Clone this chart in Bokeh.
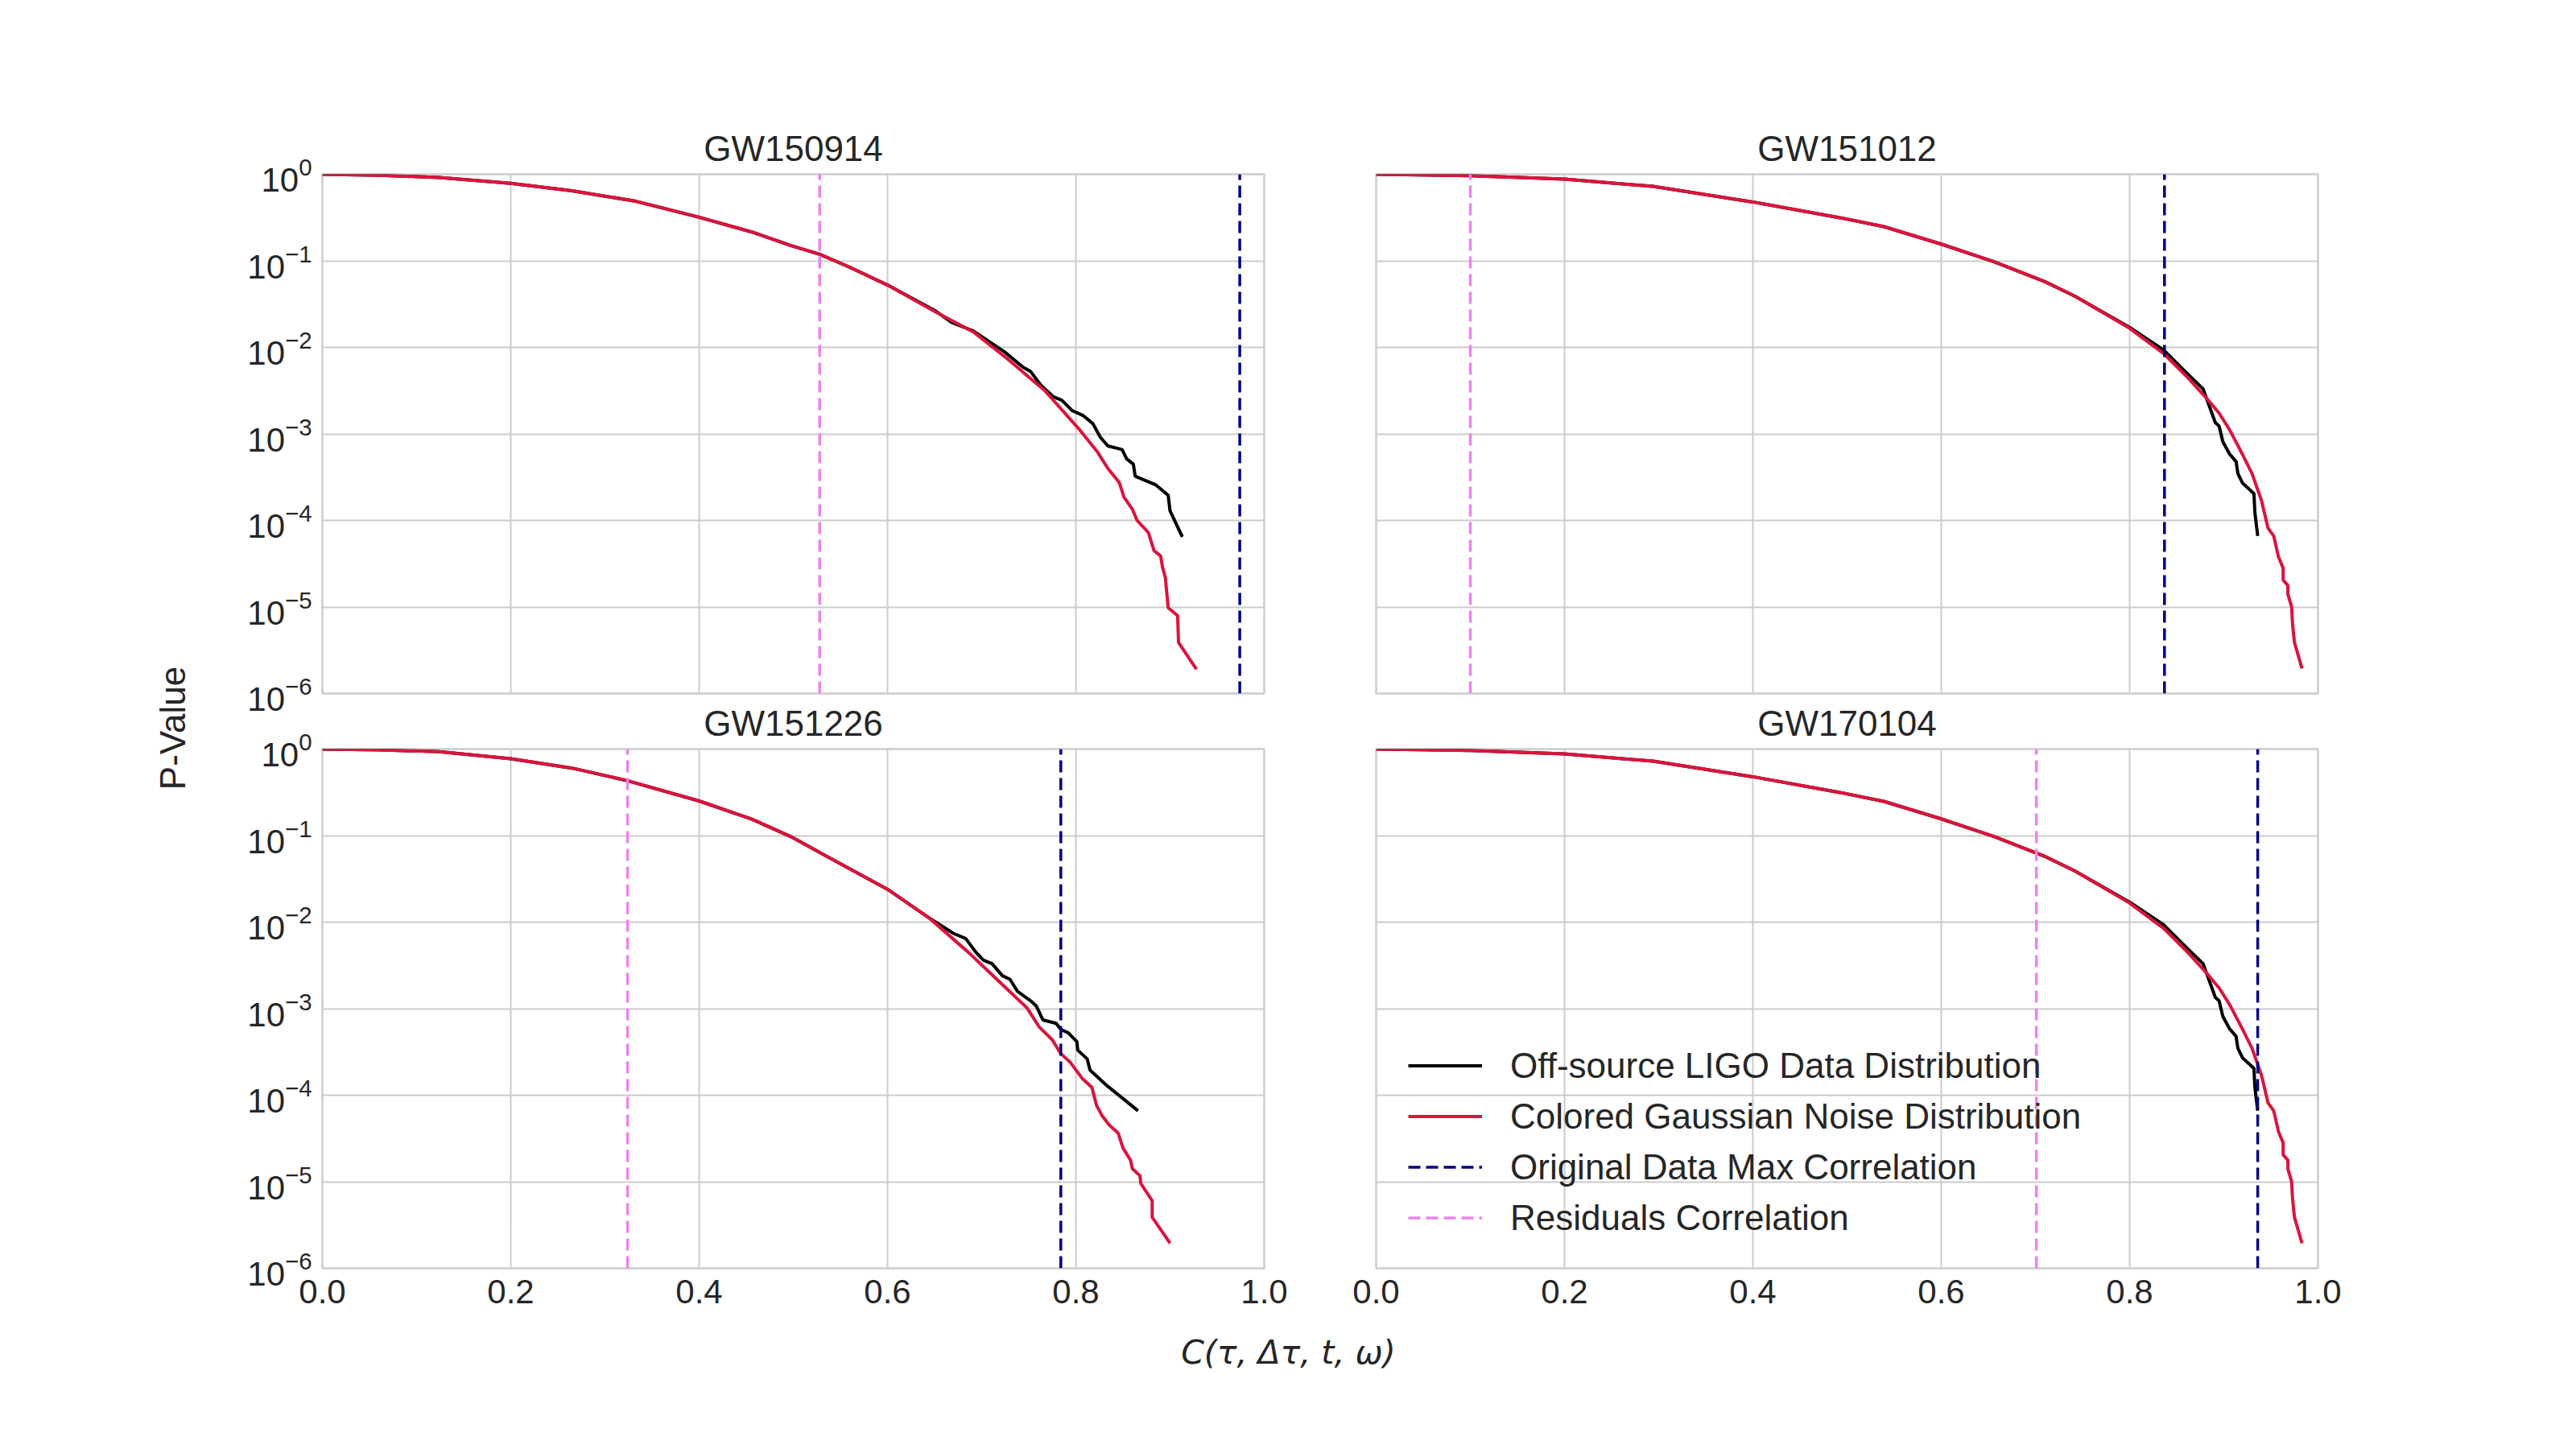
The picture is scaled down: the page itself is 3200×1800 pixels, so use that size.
import numpy as np
from bokeh.plotting import figure
from bokeh.layouts import row, column
from bokeh.models import Range1d, FixedTicker, LogTickFormatter, PrintfTickFormatter
from bokeh.core.properties import value
from bokeh.embed import file_html
from bokeh.resources import INLINE

# ---------------- data ----------------
EVENTS = ["GW150914", "GW151012", "GW151226", "GW170104"]

LABEL_OFF = "Off-source LIGO Data Distribution"
LABEL_CGN = "Colored Gaussian Noise Distribution"
LABEL_MAX = "Original Data Max Correlation"
LABEL_RES = "Residuals Correlation"

# GW150914  (C values and log10 of the P-value)
c_cgn_150914 = [0.0, 0.062, 0.124, 0.2, 0.265, 0.332, 0.4, 0.456, 0.497, 0.528, 0.559, 0.6, 0.651, 0.691,
                0.727, 0.767, 0.803, 0.823, 0.834, 0.846, 0.851, 0.86, 0.865, 0.877, 0.883, 0.89, 0.892,
                0.895, 0.898, 0.908, 0.909, 0.928]
lp_cgn_150914 = [0.0, -0.012, -0.037, -0.105, -0.19, -0.31, -0.496, -0.667, -0.822, -0.924, -1.07, -1.28,
                 -1.59, -1.82, -2.13, -2.50, -2.94, -3.21, -3.40, -3.56, -3.73, -3.87, -4.00, -4.14, -4.35,
                 -4.41, -4.54, -4.66, -5.01, -5.10, -5.41, -5.72]
c_off_150914 = [0.0, 0.062, 0.124, 0.2, 0.265, 0.332, 0.4, 0.456, 0.497, 0.528, 0.559, 0.6, 0.651, 0.668,
                0.691, 0.724, 0.744, 0.752, 0.763, 0.776, 0.785, 0.796, 0.808, 0.818, 0.826, 0.834, 0.849,
                0.854, 0.861, 0.863, 0.885, 0.898, 0.900, 0.913]
lp_off_150914 = [0.0, -0.012, -0.037, -0.105, -0.19, -0.31, -0.496, -0.667, -0.822, -0.924, -1.07, -1.28,
                 -1.58, -1.71, -1.81, -2.05, -2.23, -2.28, -2.44, -2.57, -2.61, -2.73, -2.79, -2.88, -3.04,
                 -3.14, -3.18, -3.29, -3.35, -3.49, -3.59, -3.71, -3.89, -4.19]

# GW151012
c_cgn_151012 = [0.0, 0.1, 0.2, 0.294, 0.4, 0.49, 0.539, 0.6, 0.656, 0.71, 0.742, 0.8, 0.836, 0.86, 0.881,
                0.895, 0.906, 0.92, 0.93, 0.94, 0.947, 0.953, 0.958, 0.963, 0.963, 0.968, 0.968, 0.972,
                0.973, 0.975, 0.983]
lp_cgn_151012 = [0.0, -0.016, -0.056, -0.14, -0.32, -0.497, -0.605, -0.807, -1.01, -1.24, -1.41, -1.78,
                 -2.07, -2.33, -2.58, -2.76, -2.95, -3.24, -3.46, -3.77, -4.09, -4.18, -4.42, -4.55,
                 -4.69, -4.75, -4.85, -5.00, -5.20, -5.41, -5.71]
c_off_151012 = [0.0, 0.1, 0.2, 0.294, 0.4, 0.49, 0.539, 0.6, 0.656, 0.71, 0.742, 0.8, 0.836, 0.86, 0.878,
                0.884, 0.891, 0.895, 0.899, 0.906, 0.913, 0.915, 0.92, 0.932, 0.933, 0.936]
lp_off_151012 = [0.0, -0.016, -0.056, -0.14, -0.32, -0.497, -0.605, -0.807, -1.01, -1.24, -1.41, -1.77,
                 -2.03, -2.29, -2.48, -2.66, -2.87, -2.91, -3.09, -3.23, -3.32, -3.46, -3.57, -3.69,
                 -3.91, -4.18]

# GW151226
c_cgn_151226 = [0.0, 0.062, 0.124, 0.2, 0.265, 0.324, 0.4, 0.456, 0.497, 0.539, 0.6, 0.644, 0.686, 0.716,
                0.748, 0.761, 0.775, 0.784, 0.794, 0.807, 0.817, 0.822, 0.828, 0.835, 0.845, 0.85, 0.858,
                0.86, 0.868, 0.869, 0.881, 0.881, 0.9]
lp_cgn_151226 = [0.0, -0.009, -0.031, -0.112, -0.22, -0.366, -0.60, -0.81, -1.01, -1.26, -1.62, -1.95,
                 -2.35, -2.66, -2.99, -3.21, -3.36, -3.52, -3.62, -3.81, -3.91, -4.12, -4.24, -4.34,
                 -4.44, -4.61, -4.75, -4.85, -4.93, -5.02, -5.22, -5.41, -5.71]
c_off_151226 = [0.0, 0.062, 0.124, 0.2, 0.265, 0.324, 0.4, 0.456, 0.497, 0.539, 0.6, 0.644, 0.67, 0.683,
                0.694, 0.702, 0.711, 0.722, 0.73, 0.738, 0.752, 0.758, 0.765, 0.779, 0.784, 0.792, 0.801,
                0.802, 0.812, 0.815, 0.833, 0.866]
lp_off_151226 = [0.0, -0.009, -0.031, -0.112, -0.22, -0.366, -0.60, -0.81, -1.01, -1.26, -1.62, -1.95,
                 -2.13, -2.19, -2.35, -2.44, -2.48, -2.62, -2.66, -2.80, -2.91, -2.97, -3.13, -3.17,
                 -3.24, -3.28, -3.38, -3.48, -3.58, -3.71, -3.89, -4.18]

# GW170104 (distributions identical to GW151012 in the reference)
c_cgn_170104 = list(c_cgn_151012)
lp_cgn_170104 = list(lp_cgn_151012)
c_off_170104 = list(c_off_151012)
lp_off_170104 = list(lp_off_151012)

max_corr = [0.974, 0.837, 0.784, 0.936]
resid_corr = [0.528, 0.100, 0.324, 0.701]

X_TICKS = [0.0, 0.2, 0.4, 0.6, 0.8, 1.0]
Y_TICKS = [1e-6, 1e-5, 1e-4, 1e-3, 1e-2, 1e-1, 1e0]
Y_MIN, Y_MAX = 1e-6, 1.0
X_MIN, X_MAX = 0.0, 1.0

# ---------------- styling ----------------
TXT = "#262626"
GRIDC = "#cccccc"
FONT = "Liberation Sans"
FW, FH = 1170, 645

curves = [
    (c_off_150914, lp_off_150914, c_cgn_150914, lp_cgn_150914),
    (c_off_151012, lp_off_151012, c_cgn_151012, lp_cgn_151012),
    (c_off_151226, lp_off_151226, c_cgn_151226, lp_cgn_151226),
    (c_off_170104, lp_off_170104, c_cgn_170104, lp_cgn_170104),
]

TOP1, BOT1 = 216, 40      # top row borders
TOP2, BOT2 = 64, 70       # bottom row borders
OVERLAP = (TOP1 + FH + BOT1) - (928 - TOP2)   # bottom row canvas slides up over top row's empty border
PS_W = 258
L1, R1, L2, R2 = 400 - PS_W, 70, 69, 60

borders = [
    dict(min_border_left=L1, min_border_right=R1, min_border_top=TOP1, min_border_bottom=BOT1),
    dict(min_border_left=L2, min_border_right=R2, min_border_top=TOP1, min_border_bottom=BOT1),
    dict(min_border_left=L1, min_border_right=R1, min_border_top=TOP2, min_border_bottom=BOT2),
    dict(min_border_left=L2, min_border_right=R2, min_border_top=TOP2, min_border_bottom=BOT2),
]


def make_panel(i):
    c_off, lp_off, c_cgn, lp_cgn = curves[i]
    bottom_row = i >= 2
    p = figure(frame_width=FW, frame_height=FH,
               x_range=Range1d(X_MIN, X_MAX), y_range=Range1d(Y_MIN, Y_MAX),
               y_axis_type="log", output_backend="svg", toolbar_location=None,
               title=EVENTS[i], background_fill_color="white",
               border_fill_color="white", border_fill_alpha=(0.0 if bottom_row else 1.0),
               **borders[i])
    p.title.align = "center"
    p.title.text_font = FONT
    p.title.text_font_size = "44px"
    p.title.text_font_style = "normal"
    p.title.text_color = TXT
    p.title.standoff = 15 if bottom_row else 16

    p.outline_line_color = GRIDC
    p.outline_line_width = 2.5

    p.xaxis.ticker = FixedTicker(ticks=X_TICKS)
    p.xaxis.formatter = PrintfTickFormatter(format="%.1f")
    p.yaxis.ticker = FixedTicker(ticks=Y_TICKS)
    p.yaxis.formatter = LogTickFormatter()
    p.xgrid.ticker = FixedTicker(ticks=X_TICKS)
    p.ygrid.ticker = FixedTicker(ticks=Y_TICKS)
    p.grid.grid_line_color = GRIDC
    p.grid.grid_line_width = 2

    for ax in p.axis:
        ax.axis_line_color = None
        ax.major_tick_line_color = None
        ax.minor_tick_line_color = None
        ax.major_label_text_font = FONT
        ax.major_label_text_color = TXT
    p.xaxis.major_label_standoff = 8
    p.yaxis.major_label_standoff = 7
    p.xaxis.major_label_text_font_size = "42px"
    p.yaxis.major_label_text_font_size = "42px"

    if not bottom_row:
        p.xaxis.visible = False
    if i in (1, 3):
        p.yaxis.visible = False

    leg = (i == 3)
    kw = (lambda s: dict(legend_label=s)) if leg else (lambda s: {})

    p.line(c_off, (10.0 ** np.array(lp_off)).tolist(), line_color="black", line_width=4, **kw(LABEL_OFF))
    p.line(c_cgn, (10.0 ** np.array(lp_cgn)).tolist(), line_color="crimson", line_width=4, **kw(LABEL_CGN))
    p.segment(x0=[max_corr[i]], y0=[Y_MIN], x1=[max_corr[i]], y1=[Y_MAX],
              line_color="navy", line_width=3.5, line_dash="15 7", **kw(LABEL_MAX))
    p.segment(x0=[resid_corr[i]], y0=[Y_MIN], x1=[resid_corr[i]], y1=[Y_MAX],
              line_color="violet", line_width=3.5, line_dash="15 7", **kw(LABEL_RES))

    if leg:
        lg = p.legend[0]
        lg.location = (40, 31)
        lg.padding = 0
        lg.margin = 0
        lg.spacing = 0
        lg.border_line_alpha = 0
        lg.background_fill_alpha = 0
        lg.glyph_width = 92
        lg.glyph_height = 63
        lg.label_height = 63
        lg.label_standoff = 35
        lg.label_text_font = FONT
        lg.label_text_font_size = "44px"
        lg.label_text_color = TXT
    return p


panels = [make_panel(i) for i in range(4)]

GRID_H = (TOP1 + FH + BOT1) + (TOP2 + FH + BOT2) - OVERLAP

ps = figure(width=PS_W, height=GRID_H, x_range=Range1d(0, PS_W), y_range=Range1d(0, GRID_H),
            output_backend="svg", toolbar_location=None, min_border=0,
            x_axis_location=None, y_axis_location=None, outline_line_color=None)
ps.grid.visible = False
ps.text(x=[214], y=[GRID_H - 904], text=["P-Value"], angle=np.pi / 2,
        text_align="center", text_baseline="middle", text_font=value(FONT),
        text_font_size="44px", text_color=TXT)

TOTAL_W = PS_W + (L1 + FW + R1) + (L2 + FW + R2)
XS_H = 100
xs = figure(width=TOTAL_W, height=XS_H, x_range=Range1d(0, TOTAL_W), y_range=Range1d(0, XS_H),
            output_backend="svg", toolbar_location=None, min_border=0,
            x_axis_location=None, y_axis_location=None, outline_line_color=None)
xs.grid.visible = False
xs.text(x=[1600], y=[XS_H - 34], text=["C(τ, Δτ, t, ω)"],
        text_align="center", text_baseline="middle", text_font=value("DejaVu Sans"),
        text_font_style="italic", text_font_size="41px", text_color=TXT)

top_row = row(panels[0], panels[1])
bottom_row = row(panels[2], panels[3], margin=(-OVERLAP, 0, 0, 0))
grid = column(top_row, bottom_row)
layout = column(row(ps, grid), xs)

open("out.html", "w").write(file_html(layout, INLINE))
